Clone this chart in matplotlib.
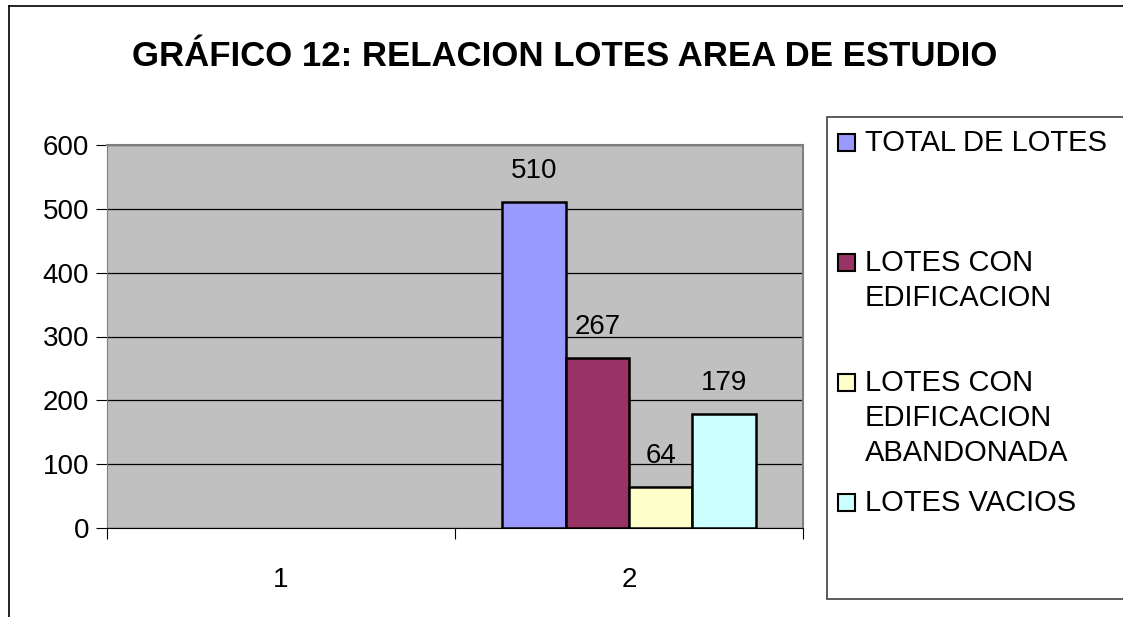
import matplotlib.pyplot as plt
from matplotlib.patches import Rectangle
import numpy as np

W, H = 1123, 617

plt.rcParams['font.family'] = ['Liberation Sans', 'DejaVu Sans']

categories = ["1", "2"]
series = ["TOTAL DE LOTES", "LOTES CON\nEDIFICACION",
          "LOTES CON\nEDIFICACION\nABANDONADA", "LOTES VACIOS"]
# category 1 has no data
values = [[None, 510], [None, 267], [None, 64], [None, 179]]
colors = ["#9999FF", "#993366", "#FFFFCC", "#CCFFFF"]
yticks = [0, 100, 200, 300, 400, 500, 600]

fig = plt.figure(figsize=(W / 100, H / 100), dpi=100)
ax = fig.add_axes([107 / W, 1 - 528 / H, (803 - 107) / W, (528 - 145) / H])
ax.set_facecolor("#C0C0C0")

x = np.arange(len(categories))
w = 1 / 5.5
for i, (name, vals) in enumerate(zip(series, values)):
    off = (i - 1.5) * w
    for j, v in enumerate(vals):
        if v is None:
            continue
        ax.bar(x[j] + off, v, width=w, color=colors[i], edgecolor="black",
               linewidth=1.8, zorder=3)
        ax.annotate(str(v), (x[j] + off, v), xytext=(0, 13),
                    textcoords="offset points", ha="center", va="bottom",
                    fontsize=20, zorder=4)

ax.set_xlim(-0.5, len(categories) - 0.5)
ax.set_ylim(0, 600)
ax.set_yticks(yticks)
ax.yaxis.grid(True, color="black", linewidth=0.9, zorder=1)
ax.tick_params(axis="y", labelsize=20, length=8, width=0.8, pad=5)
ax.set_xticks(x)
ax.set_xticklabels(categories)
ax.set_xticks(np.arange(-0.5, len(categories)), minor=True)
ax.tick_params(axis="x", which="major", length=0, labelsize=20, pad=28)
ax.tick_params(axis="x", which="minor", length=8, width=0.8, direction="out")
for s in ["top", "right"]:
    ax.spines[s].set_color("#808080")
    ax.spines[s].set_linewidth(1.5)
ax.spines["left"].set_color("#808080")
ax.spines["bottom"].set_color("black")

fig.text(565 / W, 1 - 56 / H, "GRÁFICO 12: RELACION LOTES AREA DE ESTUDIO",
         ha="center", va="center", fontsize=25, fontweight="bold")

# outer chart frame (only left and top edges visible)
fig.add_artist(plt.Line2D([9 / W, 9 / W], [0, 1 - 6 / H], color="black", lw=1.2))
fig.add_artist(plt.Line2D([9 / W, 1], [1 - 6 / H, 1 - 6 / H], color="black", lw=1.2))

# legend box
fig.add_artist(Rectangle((827 / W, 1 - 599 / H), (1140 - 827) / W, (599 - 117) / H,
                         transform=fig.transFigure, facecolor="white",
                         edgecolor="#404040", lw=1.2))
for i, name in enumerate(series):
    yc = 143 + 120 * i
    fig.add_artist(Rectangle((838 / W, 1 - (yc + 8) / H), 17 / W, 17 / H,
                             transform=fig.transFigure, facecolor=colors[i],
                             edgecolor="black", lw=1.5))
    fig.text(865 / W, 1 - (yc - 14) / H, name, ha="left", va="top",
             fontsize=21, linespacing=1.32)

fig.savefig("out.png", dpi=100)
